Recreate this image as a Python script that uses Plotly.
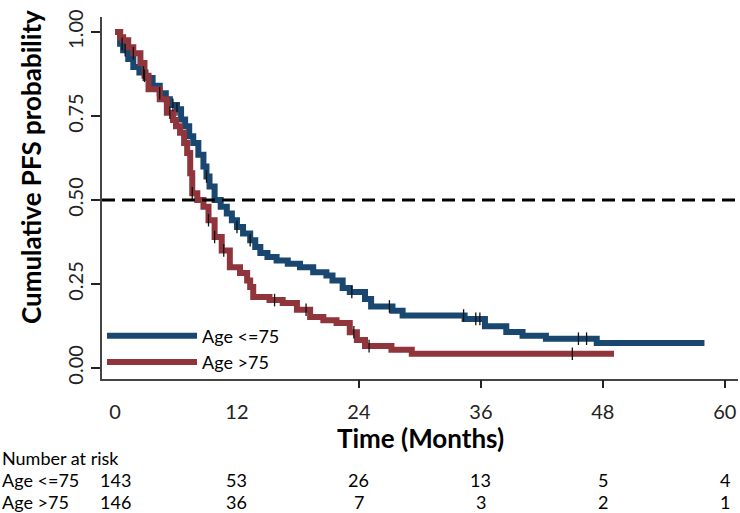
import numpy as np
import plotly.graph_objects as go

# ---------------- data ----------------
group_names = ["Age &lt;=75", "Age &gt;75"]

t_le75 = [0, 0.5, 0.8, 1.3, 1.8, 2.4, 3.0, 3.7, 4.4, 5.0, 5.4, 6.1, 6.5, 6.9, 7.3, 7.7,
          8.2, 8.7, 9.0, 9.3, 9.8, 10.4, 11.0, 11.5, 12.0, 12.6, 13.3, 13.8, 14.3, 15.0,
          15.9, 17.0, 18.2, 19.5, 20.8, 21.4, 22.4, 23.1, 24.6, 25.2, 27.3, 28.3, 34.4,
          36.4, 38.5, 40.1, 42.4, 47.4, 58.0]
s_le75 = [1.0, 0.965, 0.946, 0.92, 0.896, 0.88, 0.863, 0.84, 0.818, 0.80, 0.783, 0.77,
          0.74, 0.72, 0.69, 0.67, 0.635, 0.60, 0.57, 0.54, 0.50, 0.48, 0.46, 0.44, 0.42,
          0.40, 0.38, 0.36, 0.342, 0.33, 0.32, 0.31, 0.30, 0.285, 0.275, 0.26, 0.238,
          0.226, 0.205, 0.183, 0.17, 0.156, 0.146, 0.124, 0.107, 0.096, 0.087, 0.074, 0.074]

t_gt75 = [0, 0.5, 0.8, 1.3, 1.8, 2.5, 2.9, 3.3, 4.4, 5.1, 5.7, 6.0, 6.4, 6.8, 7.1, 7.4,
          7.6, 8.1, 8.7, 9.2, 9.8, 10.5, 11.3, 12.3, 13.0, 13.3, 13.6, 15.2, 16.5, 17.9,
          19.2, 20.5, 21.8, 23.1, 23.8, 24.6, 27.2, 29.2, 49.1]
s_gt75 = [1.0, 0.985, 0.976, 0.955, 0.937, 0.908, 0.87, 0.83, 0.80, 0.76, 0.738, 0.72,
          0.70, 0.67, 0.64, 0.58, 0.52, 0.50, 0.48, 0.44, 0.39, 0.35, 0.30, 0.283, 0.26,
          0.241, 0.211, 0.202, 0.193, 0.173, 0.152, 0.142, 0.134, 0.106, 0.083, 0.065,
          0.054, 0.042, 0.042]

cens_le75 = [0.7, 1.0, 2.8, 4.4, 5.7, 6.1, 9.0, 12.0, 13.3, 23.3, 27.0, 34.3, 35.5, 35.9,
             45.6, 46.4]
cens_gt75 = [1.8, 2.9, 5.4, 7.6, 9.2, 9.8, 10.7, 15.7, 18.8, 23.5, 25.0, 45.0]

x_ticks = [0, 12, 24, 36, 48, 60]
y_ticks = [0, 0.25, 0.5, 0.75, 1.0]
y_tick_text = ["0.00", "0.25", "0.50", "0.75", "1.00"]
risk_le75 = [143, 53, 26, 13, 5, 4]
risk_gt75 = [146, 36, 7, 3, 2, 1]
ref_line = 0.5

# ---------------- styling ----------------
BLUE = "#1a476f"
RED = "#90353b"
FONT = "Lato"
TXT = 20
TAB = 18


def step_at(tt, ss, xs):
    tt = np.asarray(tt)
    ss = np.asarray(ss)
    idx = np.searchsorted(tt, np.asarray(xs), side="right") - 1
    return ss[np.clip(idx, 0, len(ss) - 1)]


fig = go.Figure()
for tt, ss, col, nm in [(t_le75, s_le75, BLUE, group_names[0]),
                        (t_gt75, s_gt75, RED, group_names[1])]:
    fig.add_trace(go.Scatter(x=tt, y=ss, mode="lines", line=dict(color=col, width=6, shape="hv"),
                             name=nm, showlegend=True, hoverinfo="skip"))

for tt, ss, cc in [(t_le75, s_le75, cens_le75), (t_gt75, s_gt75, cens_gt75)]:
    fig.add_trace(go.Scatter(x=cc, y=step_at(tt, ss, cc), mode="markers",
                             marker=dict(symbol="line-ns", size=9,
                                         line=dict(width=1.3, color="#111")),
                             showlegend=False, hoverinfo="skip"))

# invisible trace on the overlay axis to activate it
fig.add_trace(go.Scatter(x=[x_ticks[0]], y=[ref_line], xaxis="x2", mode="markers",
                         marker=dict(opacity=0), showlegend=False, hoverinfo="skip"))

fig.add_hline(y=ref_line, line=dict(color="black", width=3, dash="13px,7px"))

xr = [-1.28, 61.3]
fig.update_layout(
    width=740, height=513,
    margin=dict(l=102, r=2, t=17, b=134),
    paper_bgcolor="white", plot_bgcolor="white",
    font=dict(family=FONT, color="black", size=TXT),
    xaxis=dict(range=xr, tickvals=x_ticks, ticktext=[str(v) for v in x_ticks], ticks="outside",
               ticklen=14, tickcolor="rgba(0,0,0,0)",
               showline=True, linecolor="#444", linewidth=1.5, showgrid=False, zeroline=False,
               tickfont=dict(size=TXT, color="#222")),
    xaxis2=dict(range=xr, overlaying="x", side="bottom", tickvals=x_ticks[2:], ticks="outside",
                ticklen=8, tickwidth=1.5, tickcolor="#222", showticklabels=False,
                showline=False, showgrid=False, zeroline=False),
    yaxis=dict(range=[-0.033, 1.045], tickvals=y_ticks, ticktext=y_tick_text, ticks="outside",
               ticklen=9, tickwidth=1.5, tickcolor="#222", tickangle=-90,
               showline=True, linecolor="#444", linewidth=1.5, showgrid=False, zeroline=False,
               tickfont=dict(size=TXT, color="#222")),
    legend=dict(x=0.0, y=0.17, xanchor="left", yanchor="top", bgcolor="rgba(0,0,0,0)",
                font=dict(size=18), itemwidth=90, tracegroupgap=0),
    showlegend=True,
)

# axis titles
fig.add_annotation(text="<b>Cumulative PFS probability</b>", textangle=-90, xref="paper", yref="paper",
                   x=-0.112, y=0.585, showarrow=False, font=dict(size=26, family=FONT),
                   xanchor="center", yanchor="middle")
fig.add_annotation(text="<b>Time (Months)</b>", xref="paper", yref="paper", x=0.5, y=-0.163,
                   showarrow=False, font=dict(size=26, family=FONT), xanchor="center", yanchor="middle")

# number at risk table
fig.add_annotation(text="Number at risk", xref="paper", yref="paper", x=-0.1604, y=-0.2182,
                   showarrow=False, xanchor="left", yanchor="middle", font=dict(size=TAB))
for row, (nm, vals) in enumerate([(group_names[0], risk_le75), (group_names[1], risk_gt75)]):
    yy = -0.2790 - 0.0608 * row
    fig.add_annotation(text=nm, xref="paper", yref="paper", x=-0.1604, y=yy, showarrow=False,
                       xanchor="left", yanchor="middle", font=dict(size=TAB))
    for xv, v in zip(x_ticks, vals):
        fig.add_annotation(text=str(v), xref="x", yref="paper", x=xv, y=yy, showarrow=False,
                           xanchor="center", yanchor="middle", font=dict(size=TAB))

fig.write_html("out.html", config={"displayModeBar": False},
               post_script="document.body.style.margin='0';")
